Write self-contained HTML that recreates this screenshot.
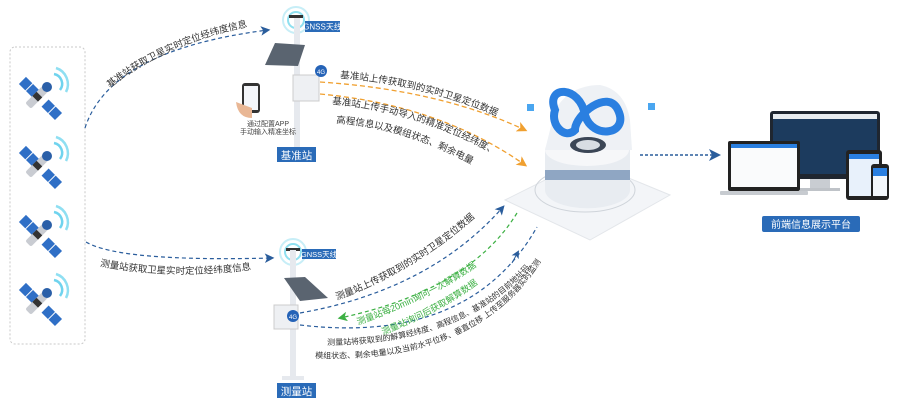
<!DOCTYPE html>
<html><head><meta charset="utf-8"><style>
html,body{margin:0;padding:0;background:#fff;}
svg{display:block;font-family:"Liberation Sans","Noto Sans CJK SC",sans-serif;}
</style></head><body>
<svg width="900" height="409" viewBox="0 0 900 409" xmlns="http://www.w3.org/2000/svg">
<defs>
<marker id="ab" markerWidth="8" markerHeight="8" refX="6" refY="4" orient="auto"><path d="M0,0 L8,4 L0,8 L2,4z" fill="#2a5d9c"/></marker>
<marker id="ao" markerWidth="8" markerHeight="8" refX="6" refY="4" orient="auto"><path d="M0,0 L8,4 L0,8 L2,4z" fill="#f0a030"/></marker>
<marker id="ag" markerWidth="8" markerHeight="8" refX="6" refY="4" orient="auto"><path d="M0,0 L8,4 L0,8 L2,4z" fill="#3cb043"/></marker>
<g id="sat">
<g transform="rotate(45)">
<rect x="-22" y="-5" width="9" height="10" fill="#2f6fc6"/><rect x="-12" y="-5" width="9" height="10" fill="#2f6fc6"/>
<rect x="10" y="-5" width="9" height="10" fill="#2f6fc6"/><rect x="20" y="-5" width="9" height="10" fill="#2f6fc6"/>
</g>
<g transform="rotate(-45)"><rect x="-14" y="-4" width="26" height="8" rx="2" fill="#c9ccd2"/><rect x="-4" y="-4" width="6" height="8" fill="#333"/></g>
<circle cx="9" cy="-9" r="5" fill="#2a5fa8"/>
<path d="M16,-22 A10,10 0 0 1 22,-6" fill="none" stroke="#6fd3ee" stroke-width="2.5"/>
<path d="M18,-28 A17,17 0 0 1 28,-4" fill="none" stroke="#8fdff2" stroke-width="2.5"/>
</g>
<g id="pole">
<rect x="-3" y="0" width="6" height="135" fill="#e6e9ee"/>
</g>
<path id="p1" d="M110,88 Q170,40 262,24"/>
<path id="p2" d="M100,266 Q180,282 275,266"/>
<path id="p3" d="M340,78 Q430,85 510,122"/>
<path id="p4" d="M332,104 Q420,112 497,156"/>
<path id="p5" d="M336,123 Q410,128 485,172"/>
<path id="p6" d="M337,300 Q415,272 480,213"/>
<path id="p7" d="M358,325 Q450,292 490,255"/>
<path id="p8" d="M383,335 Q455,306 492,272"/>
<path id="p9" d="M327,345 Q470,345 538,258"/>
<path id="p10" d="M315,358 Q490,365 552,242"/>
</defs>

<rect x="10" y="47" width="75" height="297" rx="5" fill="none" stroke="#c8c8c8" stroke-dasharray="2,2"/>
<use href="#sat" x="38" y="96"/>
<use href="#sat" x="38" y="165"/>
<use href="#sat" x="38" y="234"/>
<use href="#sat" x="38" y="302"/>

<path d="M85,128 Q110,50 268,30" fill="none" stroke="#2a5d9c" stroke-width="1.2" stroke-dasharray="4,3" marker-end="url(#ab)"/>
<path d="M86,242 Q120,262 272,258" fill="none" stroke="#2a5d9c" stroke-width="1.2" stroke-dasharray="4,3" marker-end="url(#ab)"/>
<text font-size="9.5" fill="#333"><textPath href="#p1">基准站获取卫星实时定位经纬度信息</textPath></text>
<text font-size="9.5" fill="#333"><textPath href="#p2">测量站获取卫星实时定位经纬度信息</textPath></text>

<!-- base station -->
<circle cx="296" cy="20" r="8" fill="none" stroke="#8fe0f0" stroke-width="2"/>
<circle cx="296" cy="20" r="13" fill="none" stroke="#c7eef7" stroke-width="2"/>
<rect x="289" y="15" width="14" height="3" fill="#333"/>
<rect x="305" y="21" width="35" height="11" fill="#2a6bb8"/>
<text x="322.5" y="29.5" font-size="8" fill="#fff" text-anchor="middle">GNSS天线</text>
<use href="#pole" x="297" y="18"/>
<path d="M265,65 L275,43 L305,45 L298,66z" fill="#5a6470"/>
<rect x="293" y="75" width="26" height="26" fill="#eef0f3" stroke="#ccc"/>
<circle cx="321" cy="71" r="6" fill="#2563b7"/><text x="321" y="74" font-size="6" fill="#fff" text-anchor="middle">4G</text>
<rect x="242" y="83" width="18" height="30" rx="3" fill="#333"/><rect x="244" y="86" width="14" height="24" fill="#f4f6fa"/>
<path d="M236,102 Q238,118 252,118 L252,108z" fill="#e9b795"/>
<text x="268" y="126" font-size="7" fill="#444" text-anchor="middle">通过配置APP</text>
<text x="268" y="134" font-size="7" fill="#444" text-anchor="middle">手动输入精准坐标</text>
<rect x="277" y="147" width="39" height="15" fill="#2a6bb8"/>
<text x="296.5" y="159" font-size="10.5" fill="#fff" text-anchor="middle">基准站</text>

<!-- survey station -->
<circle cx="293" cy="252" r="8" fill="none" stroke="#8fe0f0" stroke-width="2"/>
<circle cx="293" cy="252" r="13" fill="none" stroke="#c7eef7" stroke-width="2"/>
<rect x="286" y="248" width="14" height="3" fill="#333"/>
<rect x="302" y="249" width="34" height="10" fill="#2a6bb8"/>
<text x="319" y="257" font-size="7.5" fill="#fff" text-anchor="middle">GNSS天线</text>
<rect x="290" y="250" width="6" height="128" fill="#e6e9ee"/>
<path d="M284,278 L305,277 L328,298 L300,301z" fill="#5a6470"/>
<rect x="274" y="305" width="24" height="24" fill="#eef0f3" stroke="#ccc"/>
<circle cx="293" cy="316" r="6" fill="#2563b7"/><text x="293" y="319" font-size="6" fill="#fff" text-anchor="middle">4G</text>
<rect x="282" y="376" width="22" height="4" fill="#e6e9ee"/>
<rect x="277" y="383" width="39" height="15" fill="#2a6bb8"/>
<text x="296.5" y="395" font-size="10.5" fill="#fff" text-anchor="middle">测量站</text>

<!-- orange arrows -->
<path d="M320,82 Q440,90 525,130" fill="none" stroke="#f0a030" stroke-width="1.3" stroke-dasharray="5,3" marker-end="url(#ao)"/>
<path d="M320,94 Q440,105 525,165" fill="none" stroke="#f0a030" stroke-width="1.3" stroke-dasharray="5,3" marker-end="url(#ao)"/>
<text font-size="9.5" fill="#333"><textPath href="#p3">基准站上传获取到的实时卫星定位数据</textPath></text>
<text font-size="9.5" fill="#333"><textPath href="#p4">基准站上传手动导入的精准定位经纬度、</textPath></text>
<text font-size="9.5" fill="#333"><textPath href="#p5">高程信息以及模组状态、剩余电量</textPath></text>

<!-- bottom arcs -->
<path d="M300,313 Q430,290 503,207" fill="none" stroke="#2a5d9c" stroke-width="1.2" stroke-dasharray="4,3" marker-end="url(#ab)"/>
<path d="M517,213 Q470,290 340,318" fill="none" stroke="#3cb043" stroke-width="1.2" stroke-dasharray="4,3" marker-end="url(#ag)"/>
<path d="M300,325 Q470,345 537,227" fill="none" stroke="#2a5d9c" stroke-width="1.2" stroke-dasharray="4,3"/>
<path d="M512,263 L518,252" stroke="#2a5d9c" marker-end="url(#ab)"/>
<text font-size="9.5" fill="#333"><textPath href="#p6">测量站上传获取到的实时卫星定位数据</textPath></text>
<text font-size="9" fill="#3cb043"><textPath href="#p7">测量站每20min询问一次解算数据</textPath></text>
<text font-size="9" fill="#3cb043"><textPath href="#p8">测量站询问后获取解算数据</textPath></text>
<text font-size="8" fill="#333"><textPath href="#p9">测量站将获取到的解算经纬度、高程信息、基准站的目前地址码、</textPath></text>
<text font-size="8" fill="#333"><textPath href="#p10">模组状态、剩余电量以及当前水平位移、垂直位移 上传至服务器实时监测</textPath></text>

<!-- device -->
<path d="M505,200 L585,160 L670,195 L590,240z" fill="#f3f5f8" stroke="#e3e6ea"/>
<ellipse cx="585" cy="190" rx="50" ry="22" fill="none" stroke="#cfd4da"/>
<path d="M545,150 L545,190 A42,18 0 0 0 630,190 L630,150z" fill="#e8ecf1"/>
<rect x="545" y="170" width="85" height="10" fill="#8fa6c3"/>
<ellipse cx="587" cy="150" rx="42" ry="16" fill="#f6f7f9"/>
<path d="M555,110 Q570,85 600,85 Q625,90 630,120 L632,150 L545,150z" fill="#eef1f5"/>
<ellipse cx="588" cy="145" rx="18" ry="8" fill="#3b4656"/>
<ellipse cx="588" cy="145" rx="12" ry="5" fill="#d8dde3"/>
<path d="M555,110 C545,85 580,85 585,115 C592,140 630,135 618,110 C608,88 575,115 575,130 C565,140 550,125 555,110z" fill="none" stroke="#2a7fe0" stroke-width="8"/>
<rect x="527" y="104" width="7" height="7" fill="#4aa6f0"/>
<rect x="648" y="103" width="7" height="7" fill="#4aa6f0"/>

<path d="M640,155 L718,155" stroke="#2a5d9c" stroke-width="1.5" stroke-dasharray="3,2" marker-end="url(#ab)"/>

<rect x="770" y="111" width="110" height="68" rx="3" fill="#1f2630"/>
<rect x="773" y="114" width="104" height="60" fill="#1c3b5e"/>
<rect x="773" y="114" width="104" height="5" fill="#e8ecf0"/>
<rect x="810" y="179" width="20" height="10" fill="#c9cdd2"/><rect x="800" y="188" width="40" height="3" fill="#bfc3c8"/>
<rect x="728" y="141" width="72" height="50" rx="2" fill="#222"/>
<rect x="731" y="144" width="66" height="43" fill="#fafbfc"/>
<rect x="731" y="144" width="66" height="4" fill="#2a7fe0"/>
<rect x="720" y="191" width="88" height="4" rx="1" fill="#c7cbd0"/>
<rect x="846" y="150" width="36" height="50" rx="3" fill="#222"/>
<rect x="849" y="154" width="30" height="42" fill="#e8f1fb"/>
<rect x="849" y="154" width="30" height="5" fill="#2a7fe0"/>
<rect x="871" y="164" width="18" height="36" rx="3" fill="#222"/>
<rect x="873" y="168" width="14" height="28" fill="#f3f7fb"/>
<rect x="873" y="168" width="14" height="8" fill="#2a7fe0"/>
<rect x="762" y="216" width="98" height="16" rx="2" fill="#2a6bb8"/>
<text x="811" y="228" font-size="10" fill="#fff" text-anchor="middle">前端信息展示平台</text>
</svg>
</body></html>
